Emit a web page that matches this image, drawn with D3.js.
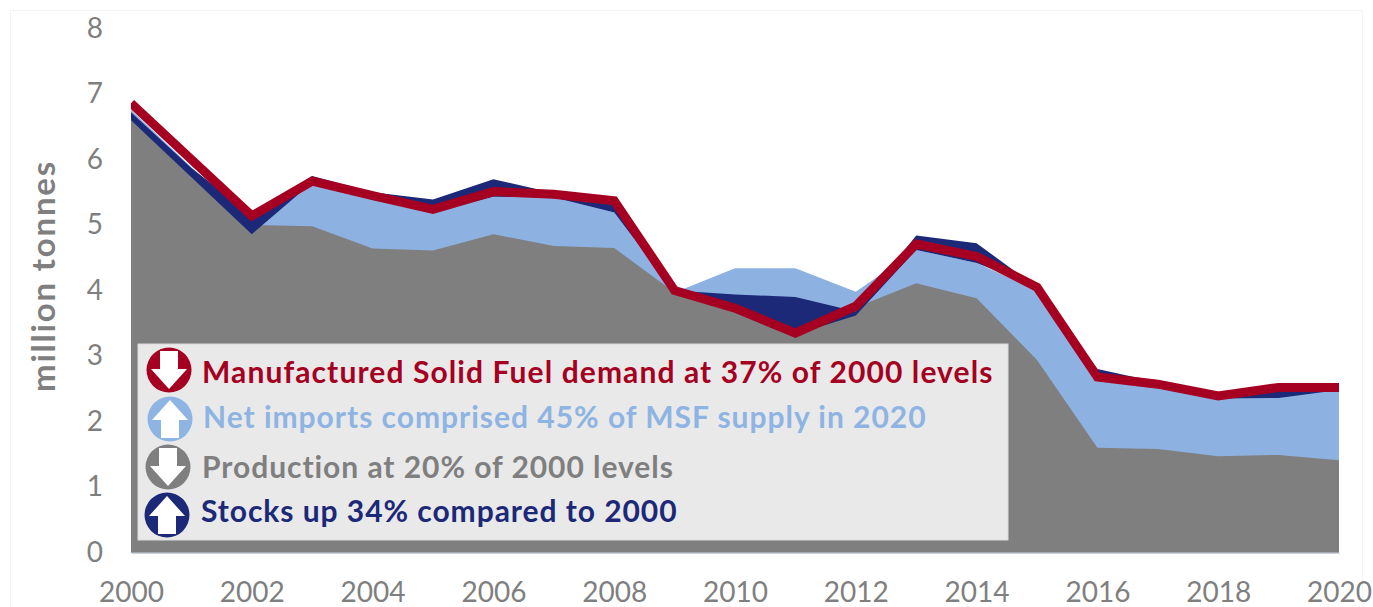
<!DOCTYPE html>
<html><head><meta charset="utf-8">
<script src="https://cdn.jsdelivr.net/npm/d3@7"></script>
<style>html,body{margin:0;padding:0;background:#fff}svg{display:block}text{font-family:Lato,sans-serif}</style>
</head><body><svg id="c" width="1373" height="607"></svg>
<script>
const years=[2000,2001,2002,2003,2004,2005,2006,2007,2008,2009,2010,2011,2012,2013,2014,2015,2016,2017,2018,2019,2020];
const demand=[6.86,6.0,5.14,5.67,5.45,5.24,5.51,5.47,5.37,4.0,3.73,3.35,3.76,4.71,4.52,4.05,2.68,2.57,2.39,2.52,2.52];
const importsTop=[6.76,5.88,5.0,5.65,5.38,5.19,5.43,5.42,5.19,3.97,4.34,4.34,3.98,4.62,4.42,4.0,2.62,2.52,2.35,2.45,2.48];
const production=[6.6,5.8,5.0,4.98,4.64,4.61,4.86,4.68,4.65,3.97,3.7,3.35,3.74,4.11,3.88,2.94,1.6,1.58,1.47,1.49,1.41];
const stockHigh=[6.72,5.87,5.15,5.75,5.5,5.39,5.7,5.49,5.37,4.0,3.94,3.9,3.68,4.84,4.72,4.05,2.8,2.6,2.45,2.52,2.52];
const stockLow=[6.6,5.73,4.86,5.65,5.38,5.19,5.43,5.42,5.19,3.97,3.7,3.33,3.62,4.62,4.42,4.05,2.62,2.52,2.35,2.36,2.48];
const yTicks=[0,1,2,3,4,5,6,7,8];
const xTicks=[2000,2002,2004,2006,2008,2010,2012,2014,2016,2018,2020];
const yTitle="million tonnes";
const notes=["Manufactured Solid Fuel demand at 37% of 2000 levels","Net imports comprised 45% of MSF supply in 2020","Production at 20% of 2000 levels","Stocks up 34% compared to 2000"];
const noteDirs=["down","up","down","up"];
const noteColors=["#a50021","#8eb4e3","#7f7f7f","#1c2878"];

const svg=d3.select("#c");
const x=d3.scaleLinear().domain([2000,2020]).range([131,1339]);
const y=d3.scaleLinear().domain([0,8]).range([552.5,28.5]);
const idx=years.map((_,i)=>i);
const grey="#7f7f7f";

svg.append("rect").attr("x",10.5).attr("y",10.5).attr("width",1352).attr("height",620).attr("fill","none").attr("stroke","#f4f4f4");
svg.append("defs").append("clipPath").attr("id","plot").append("rect").attr("x",131).attr("y",0).attr("width",1208).attr("height",553);

const band=(lo,hi)=>d3.area().x(i=>x(years[i])).y0(i=>y(lo(i))).y1(i=>y(hi(i)))(idx);
svg.append("path").attr("d",band(()=>0,i=>importsTop[i])).attr("fill","#8db2e2");
svg.append("path").attr("d",band(()=>0,i=>production[i])).attr("fill",grey);
svg.append("path").attr("d",band(i=>stockLow[i],i=>stockHigh[i])).attr("fill","#1c2878");
svg.append("path").attr("clip-path","url(#plot)").attr("fill","none").attr("stroke","#a50021").attr("stroke-width",9)
  .attr("stroke-linejoin","miter")
  .attr("d",d3.line().x(i=>x(years[i])).y(i=>y(demand[i]))(idx));

const ax=svg.append("g").attr("transform","translate(0,553)").call(d3.axisBottom(x).tickValues(xTicks).tickFormat(d3.format("d")).tickSize(0).tickPadding(29));
ax.select(".domain").attr("stroke","#d0d0d0").attr("stroke-width",1.2);
ax.selectAll("text").attr("fill",grey).style("font-size","28px").style("font-family","Lato,sans-serif");
const ay=svg.append("g").attr("transform","translate(131,0)").call(d3.axisLeft(y).tickValues(yTicks).tickSize(0).tickPadding(28));
ay.select(".domain").remove();
ay.selectAll("text").attr("fill",grey).style("font-size","28px").style("font-family","Lato,sans-serif");

svg.append("text").attr("transform","translate(55,276) rotate(-90)").attr("text-anchor","middle").attr("fill",grey)
  .style("font-size","33px").style("letter-spacing","1.8px").style("font-weight",700).text(yTitle);

svg.append("rect").attr("x",138).attr("y",344).attr("width",870).attr("height",196).attr("fill","#e9e9e9").attr("stroke","#dcdcdc");
const rowY=[383,428,478,522], iconX=[169,170,168,167], iconY=[370,419,467,515], textX=[202,203,202,201], spacing=[1.1,0.98,0.95,0.95];
const arrow="M-9,-19 H9 V-1 H18 L0,19 L-18,-1 H-9 Z";
notes.forEach((t,i)=>{
  const g=svg.append("g").attr("transform",`translate(${iconX[i]},${iconY[i]})`);
  g.append("circle").attr("r",22.5).attr("fill",noteColors[i]);
  g.append("path").attr("d",arrow).attr("fill","#fff").attr("transform",noteDirs[i]==="up"?"rotate(180)":null);
  svg.append("text").attr("x",textX[i]).attr("y",rowY[i]).attr("fill",noteColors[i]).style("font-size","30px").style("letter-spacing",spacing[i]+"px").style("font-weight",700).text(t);
});
</script></body></html>
